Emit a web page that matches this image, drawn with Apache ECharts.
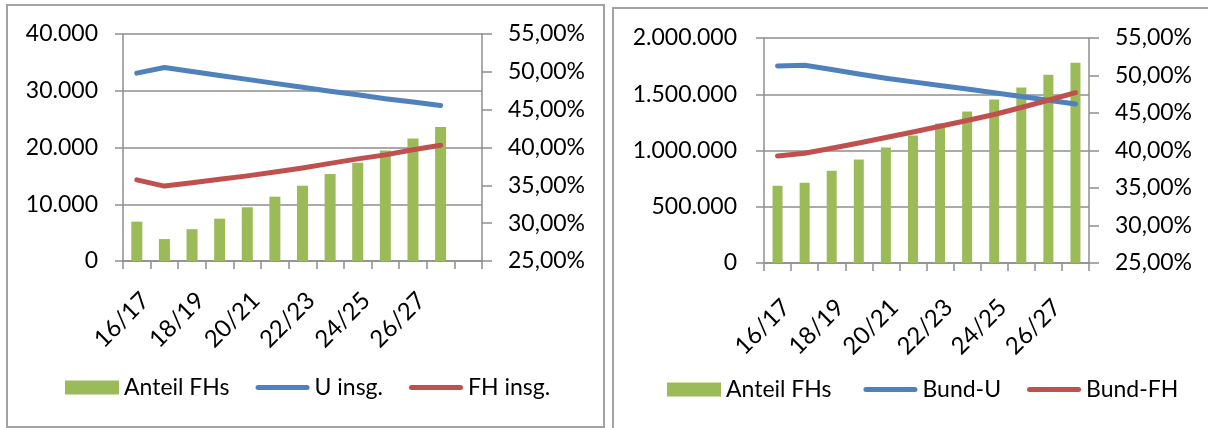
<!DOCTYPE html>
<html>
<head>
<meta charset="utf-8">
<script src="https://cdn.jsdelivr.net/npm/echarts@6/dist/echarts.min.js"></script>
<style>
  html, body { margin: 0; padding: 0; background: #fff; }
  #chart { width: 1208px; height: 428px; }
</style>
</head>
<body>
<div id="chart"></div>
<script>
// Studienjahre (linkes Diagramm mit einer leeren Kategorie am Ende)
const yearsLeft = ['16/17', '17/18', '18/19', '19/20', '20/21', '21/22', '22/23', '23/24', '24/25', '25/26', '26/27', '27/28', ''];
const yearsRight = ['16/17', '17/18', '18/19', '19/20', '20/21', '21/22', '22/23', '23/24', '24/25', '25/26', '26/27', '27/28'];

// Linkes Diagramm: Anteil FHs in %, Universitäten und FHs insgesamt
const anteilFHsLeft = [30.2, 27.9, 29.2, 30.6, 32.1, 33.5, 34.95, 36.5, 38.0, 39.6, 41.2, 42.7];
const uInsg = [33100, 34100, 33400, 32700, 32000, 31300, 30600, 29900, 29300, 28600, 28000, 27400];
const fhInsg = [14300, 13200, 13800, 14400, 15000, 15700, 16400, 17200, 18000, 18700, 19600, 20400];

// Rechtes Diagramm: Anteil FHs in %, Bund-U und Bund-FH
const anteilFHsRight = [35.3, 35.7, 37.3, 38.8, 40.4, 42.0, 43.6, 45.2, 46.8, 48.4, 50.1, 51.7];
const bundU = [1751000, 1757000, 1720000, 1680000, 1643000, 1610000, 1578000, 1546000, 1513000, 1480000, 1446000, 1413000];
const bundFH = [951000, 975000, 1020000, 1067000, 1115000, 1165000, 1215000, 1267000, 1320000, 1382000, 1447000, 1514000];

// Achsenbereiche
const leftCountAxis = { min: 0, max: 40000, interval: 10000 };
const rightCountAxis = { min: 0, max: 2000000, interval: 500000 };
const pctAxis = { min: 25, max: 55, interval: 5 };

const FONT = 'Lato';
const TEXT = '#000000';
const GREEN = '#9BBB59';
const BLUE = '#4F81BD';
const RED = '#C0504D';
const GRID_GRAY = '#8e8e8e';

// Legendensymbol für Linien: dicker Strich mit runden Enden, vertikal mittig im 54×14-Feld
const LINE_ICON = 'path://M0,0 M2.5,4.5 L51.5,4.5 A2.5,2.5 0 0 1 51.5,9.5 L2.5,9.5 A2.5,2.5 0 0 1 2.5,4.5 Z M54,14';

const thousands = v => String(v).replace(/\B(?=(\d{3})+(?!\d))/g, '.');
const percent = v => v.toFixed(2).replace('.', ',') + '%';

function catAxis(gridIndex, data, margin) {
  return {
    type: 'category', gridIndex, data, boundaryGap: true,
    axisLine: { lineStyle: { color: GRID_GRAY, width: 1.5 } },
    axisTick: { show: true, interval: 0, length: 8, lineStyle: { color: GRID_GRAY, width: 1.5 } },
    axisLabel: {
      interval: 1, rotate: 45, align: 'right', verticalAlign: 'top', margin,
      fontFamily: FONT, fontSize: 24, color: TEXT
    },
    splitLine: { show: false }
  };
}

function countAxis(gridIndex, range, margin) {
  return {
    type: 'value', gridIndex, position: 'left', ...range,
    axisLine: { show: true, lineStyle: { color: GRID_GRAY, width: 1.5 } },
    axisTick: { show: true, length: 8, lineStyle: { color: GRID_GRAY, width: 1.5 } },
    axisLabel: { formatter: thousands, margin, fontFamily: FONT, fontSize: 23, color: TEXT },
    splitLine: { show: true, lineStyle: { color: GRID_GRAY, width: 1.5 } }
  };
}

function shareAxis(gridIndex, margin) {
  return {
    type: 'value', gridIndex, position: 'right', ...pctAxis,
    axisLine: { show: true, lineStyle: { color: GRID_GRAY, width: 1.5 } },
    axisTick: { show: true, length: 10, lineStyle: { color: GRID_GRAY, width: 1.5 } },
    axisLabel: { formatter: percent, margin, fontFamily: FONT, fontSize: 23, color: TEXT },
    splitLine: { show: false }
  };
}

function lineSeries(name, data, color, xAxisIndex, yAxisIndex) {
  return {
    name, type: 'line', data, xAxisIndex, yAxisIndex,
    symbol: 'none', showSymbol: false, smooth: false,
    lineStyle: { color, width: 5, cap: 'round', join: 'round' },
    itemStyle: { color }
  };
}

function barSeries(name, data, xAxisIndex, yAxisIndex, width) {
  return {
    name, type: 'bar', data, xAxisIndex, yAxisIndex,
    barWidth: width, clip: true,
    itemStyle: { color: GREEN }
  };
}

const legendText = { fontFamily: FONT, fontSize: 23, color: TEXT };

const option = {
  animation: false,
  backgroundColor: '#ffffff',
  grid: [
    { left: 123, top: 34, width: 359, height: 227 },
    { left: 764, top: 38, width: 325, height: 225 }
  ],
  xAxis: [catAxis(0, yearsLeft, 27), catAxis(1, yearsRight, 32)],
  yAxis: [
    countAxis(0, leftCountAxis, 25),
    shareAxis(0, 26),
    countAxis(1, rightCountAxis, 27),
    shareAxis(1, 26)
  ],
  legend: [
    {
      left: 65, top: 376, padding: 0, itemWidth: 54, itemHeight: 14, itemGap: 26,
      textStyle: legendText,
      data: [
        { name: 'Anteil FHs', icon: 'rect' },
        { name: 'U insg.', icon: LINE_ICON },
        { name: 'FH insg.', icon: LINE_ICON }
      ]
    },
    {
      left: 667, top: 378, padding: 0, itemWidth: 54, itemHeight: 14, itemGap: 26,
      textStyle: legendText,
      data: [
        { name: 'Anteil FHs ', icon: 'rect' },
        { name: 'Bund-U', icon: LINE_ICON },
        { name: 'Bund-FH', icon: LINE_ICON }
      ]
    }
  ],
  series: [
    barSeries('Anteil FHs', anteilFHsLeft, 0, 1, 11),
    lineSeries('U insg.', uInsg, BLUE, 0, 0),
    lineSeries('FH insg.', fhInsg, RED, 0, 0),
    barSeries('Anteil FHs ', anteilFHsRight, 1, 3, 10),
    lineSeries('Bund-U', bundU, BLUE, 1, 2),
    lineSeries('Bund-FH', bundFH, RED, 1, 2)
  ],
  graphic: [
    { type: 'rect', silent: true, shape: { x: 7, y: 5, width: 597, height: 422 },
      style: { fill: 'none', stroke: '#a3a3a3', lineWidth: 2 } },
    { type: 'rect', silent: true, shape: { x: 613, y: 8, width: 640, height: 460 },
      style: { fill: 'none', stroke: '#a3a3a3', lineWidth: 2 } }
  ]
};

const chart = echarts.init(document.getElementById('chart'), null, { renderer: 'canvas' });
chart.setOption(option);
</script>
</body>
</html>
